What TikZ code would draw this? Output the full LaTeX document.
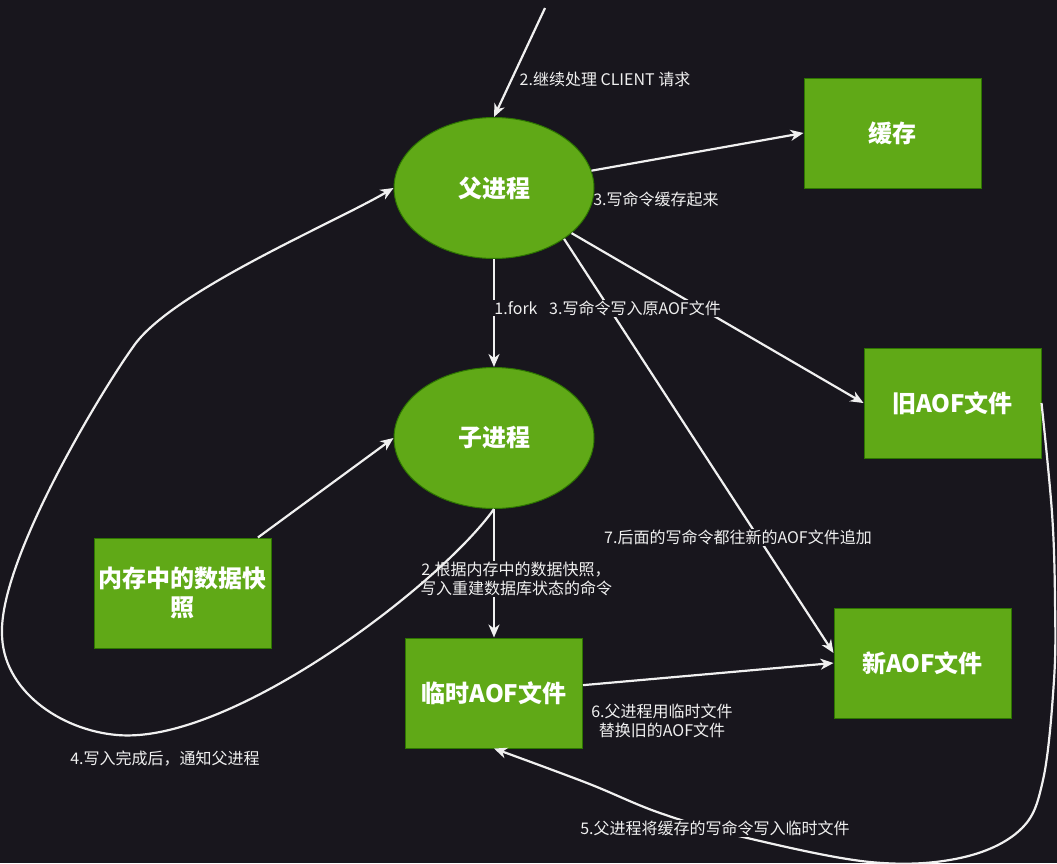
\documentclass[tikz,border=0pt]{standalone}
\usepackage{fontspec}
\setmainfont{Noto Sans CJK SC}
\usetikzlibrary{shapes.geometric,arrows.meta}
\definecolor{bg}{HTML}{18161D}
\definecolor{gfill}{HTML}{60A917}
\definecolor{gdraw}{HTML}{2D7600}
\definecolor{ln}{HTML}{F0F0F0}
\tikzset{
  box/.style={rectangle, fill=gfill, draw=gdraw, line width=1pt, minimum width=177pt, minimum height=110pt, inner sep=0pt, text=white, font=\fontsize{24}{29}\selectfont\bfseries, align=center},
  proc/.style={ellipse, fill=gfill, draw=gdraw, line width=1pt, minimum width=200pt, minimum height=141pt, inner sep=0pt, text=white, font=\fontsize{24}{29}\selectfont\bfseries},
  conn/.style={draw=ln, line width=2.2pt, -{Stealth[length=13pt,width=11pt,inset=4pt]}},
  lbl/.style={text=ln, font=\fontsize{16}{19}\selectfont, inner sep=1pt, align=center},
  lblbg/.style={lbl, fill=bg}
}
\begin{document}
\begin{tikzpicture}[x=1pt,y=-1pt]
\fill[bg] (0,0) rectangle (1057,863);
\useasboundingbox (0,0) rectangle (1057,863);
% nodes
\node[proc] (p) at (494,188) {父进程};
\node[proc] (c) at (494,438) {子进程};
\node[box] (cache) at (892.5,133) {缓存};
\node[box] (old) at (952.5,403) {旧AOF文件};
\node[box] (mem) at (182.5,593) {内存中的数据快\\照};
\node[box] (temp) at (494,693) {临时AOF文件};
\node[box] (new) at (922.5,663) {新AOF文件};
\coordinate (src) at (545,8);
% straight connectors
\draw[conn] (src) -- (p.north);
\node[lbl] (l1) at (605,79) {2.继续处理 CLIENT 请求};
\draw[conn] (p) -- (cache.west);
\node[lbl] (l2) at (656,199) {3.写命令缓存起来};
\draw[conn] (p.south) -- (c.north);
\draw[conn] (p) -- (old.west);
\draw[conn] (p.-36) -- ([yshift=10pt]new.west);
\node[lblbg] (l3) at (516,308) {1.fork};
\node[lblbg] (l4) at (635,308) {3.写命令写入原AOF文件};
\node[lblbg] (l5) at (738,537) {7.后面的写命令都往新的AOF文件追加};
\draw[conn] (temp) -- (new.west);
\node[lbl] (l6) at (662,721) {6.父进程用临时文件\\替换旧的AOF文件};
\draw[conn] (mem) -- (c.west);
\draw[conn] (c.south) -- (temp.north);
\node[lblbg] (l7) at (516,579) {2.根据内存中的数据快照，\\写入重建数据库状态的命令};
% curved connectors
\draw[conn] (c.south) .. controls (440,585) and (230,745) .. (117,735)
  .. controls (60,730) and (2,690) .. (2,633)
  .. controls (0,560) and (98,396) .. (133,347)
  .. controls (170,292) and (334,223) .. (p.west);
\node[lbl] (l8) at (165,759) {4.写入完成后，通知父进程};
\draw[conn] plot[smooth, tension=0.6] coordinates {(old.east) (1052,513) (1055,600) (1054,680) (1043,780) (1020,830) (960,858) (870,862) (743,837) (660,813) (587,783) (temp.south)};
\node[lblbg] (l9) at (715,828) {5.父进程将缓存的写命令写入临时文件};
\end{tikzpicture}
\end{document}
